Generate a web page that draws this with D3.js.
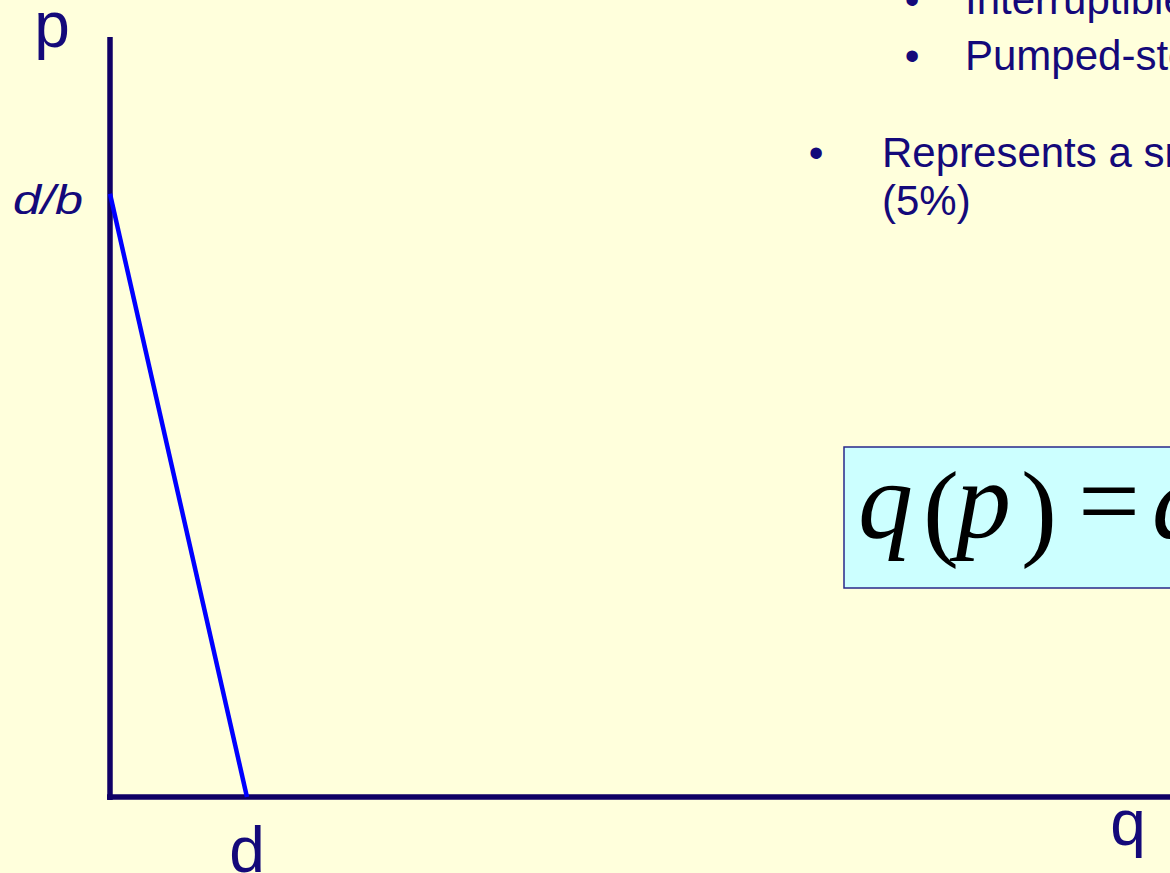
<!DOCTYPE html>
<html>
<head>
<meta charset="utf-8">
<script src="https://cdn.jsdelivr.net/npm/d3@7"></script>
<style>
  html, body { margin: 0; padding: 0; background: #ffffdc; overflow: hidden; }
  svg { display: block; }
</style>
</head>
<body>
<svg id="slide" width="1170" height="873"></svg>
<script>
"use strict";

// demand curve q(p) = d - b*p, with d = 1, b = 1
var curveQ = [0, 1]          // quantity at the two ends
var curveP = [1, 0]          // price at the two ends
var qLabels = ["d"]          // tick label on q axis, at q = d
var pLabels = ["d/b"]        // tick label on p axis, at p = d/b
var qMax = 7.74
var pMax = 1.26

var bullets = [
    {level: 2, text: "Interruptible loads"},
    {level: 2, text: "Pumped-storage hydro"},
    {level: 1, text: "Represents a small share of demand"},
    {level: 1, text: "(5%)", cont: true}
]

var navy = "#14097a"
var axisCol = "#0f0066"
var sans = "'Liberation Sans', Arial, sans-serif"

var svg = d3.select("#slide")
svg.append("rect").attr("width", 1170).attr("height", 873).attr("fill", "#ffffdc")

var x = d3.scaleLinear().domain([0, qMax]).range([110, 1170])
var y = d3.scaleLinear().domain([0, pMax]).range([797, 37])

// axes
svg.append("line")
    .attr("x1", x(0)).attr("x2", x(0))
    .attr("y1", y(pMax)).attr("y2", y(0) + 3)
    .attr("stroke", axisCol).attr("stroke-width", 5.5)
svg.append("line")
    .attr("x1", x(0) - 3).attr("x2", x(qMax))
    .attr("y1", y(0)).attr("y2", y(0))
    .attr("stroke", axisCol).attr("stroke-width", 5.5)

// demand line
var pts = curveQ.map((q, i) => [q, curveP[i]])
svg.append("path")
    .datum(pts)
    .attr("d", d3.line().x(d => x(d[0])).y(d => y(d[1])))
    .attr("fill", "none")
    .attr("stroke", "#0000ff")
    .attr("stroke-width", 4.5)

// axis names
svg.append("text").text("p")
    .attr("x", 52).attr("y", 47)
    .attr("text-anchor", "middle")
    .style("font", "64px " + sans)
    .attr("fill", navy)
svg.append("text").text("q")
    .attr("x", 1128).attr("y", 845)
    .attr("text-anchor", "middle")
    .style("font", "64px " + sans)
    .attr("fill", navy)

// tick labels
svg.selectAll(".qlab").data(qLabels).enter().append("text")
    .attr("class", "qlab")
    .text(d => d)
    .attr("x", x(1)).attr("y", 872)
    .attr("text-anchor", "middle")
    .style("font", "64px " + sans)
    .attr("fill", navy)
svg.selectAll(".plab").data(pLabels).enter().append("text")
    .attr("class", "plab")
    .text(d => d)
    .attr("x", 13).attr("y", y(1) + 20)
    .attr("textLength", 70)
    .attr("lengthAdjust", "spacingAndGlyphs")
    .style("font", "italic 40px " + sans)
    .attr("fill", navy)

// bullet text (top right, clipped by the window)
var bulletY = [14, 70, 167, 215]
bullets.forEach((b, i) => {
    var dotX = b.level == 2 ? 912 : 816
    var txtX = b.level == 2 ? 965 : 882
    if (!b.cont) {
        svg.append("text").text("\u2022")
            .attr("x", dotX).attr("y", bulletY[i])
            .attr("text-anchor", "middle")
            .style("font", "42px " + sans)
            .attr("fill", navy)
    }
    svg.append("text").text(b.text)
        .attr("x", txtX).attr("y", bulletY[i])
        .style("font", "42px " + sans)
        .attr("fill", navy)
})

// formula box
svg.append("rect")
    .attr("x", 844).attr("y", 447)
    .attr("width", 400).attr("height", 141)
    .attr("fill", "#ccffff")
    .attr("stroke", "#28288a").attr("stroke-width", 1.5)

var eqParts = [
    {t: "q", it: true, x: 858, y: 538, s: 110},
    {t: "(", it: false, x: 923, y: 546, s: 108},
    {t: "p", it: true, x: 956, y: 538, s: 110},
    {t: ")", it: false, x: 1021, y: 546, s: 108},
    {t: "=", it: false, x: 1078, y: 538, s: 110},
    {t: "d", it: true, x: 1152, y: 538, s: 110}
]
svg.selectAll(".eq").data(eqParts).enter().append("text")
    .attr("class", "eq")
    .text(d => d.t)
    .attr("x", d => d.x).attr("y", d => d.y)
    .style("font-family", "'Liberation Serif', 'Times New Roman', serif")
    .style("font-size", d => d.s + "px")
    .style("font-style", d => d.it ? "italic" : "normal")
    .attr("fill", "#000")
</script>
</body>
</html>
